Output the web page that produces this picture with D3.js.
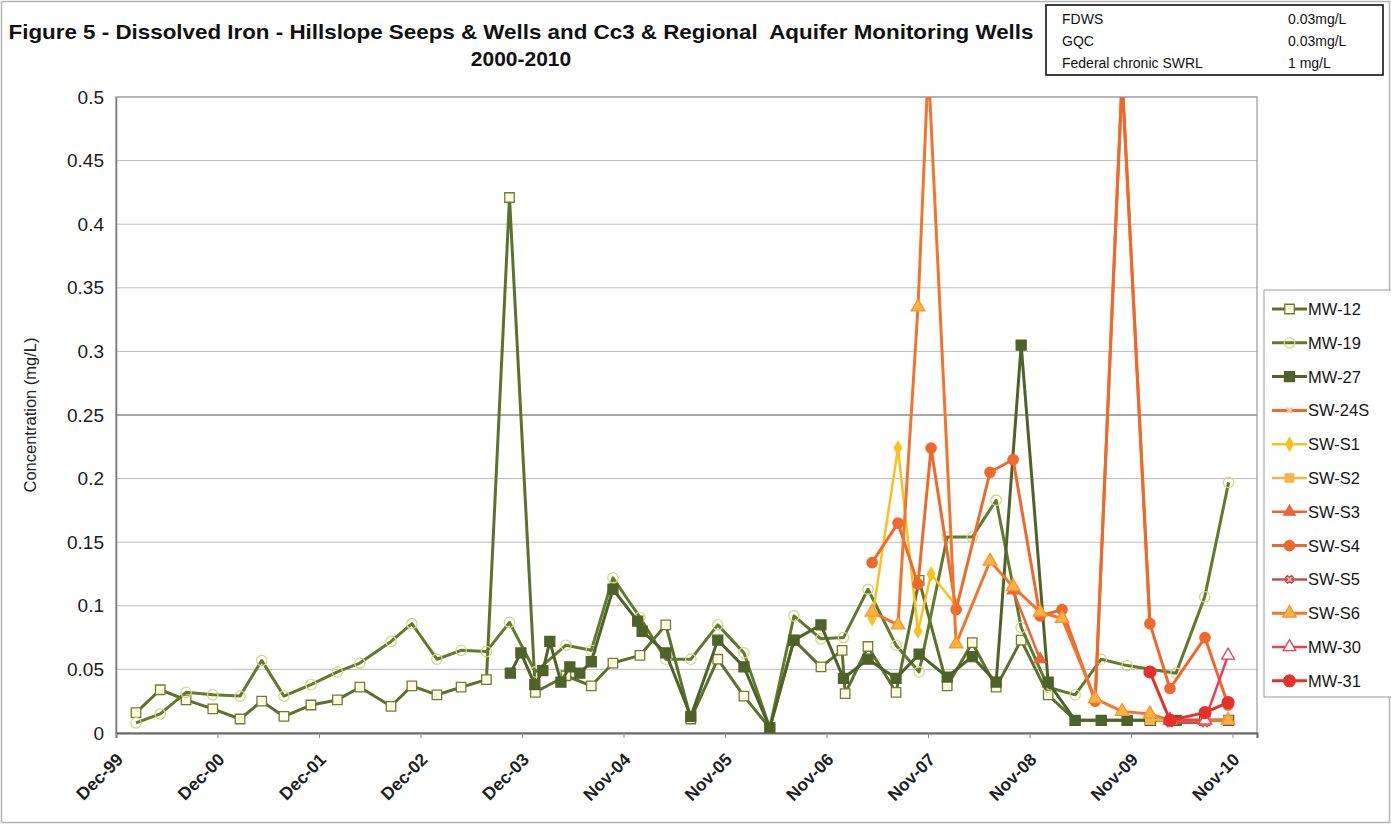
<!DOCTYPE html>
<html><head><meta charset="utf-8">
<script src="https://cdn.jsdelivr.net/npm/d3@7"></script>
<style>
html,body{margin:0;padding:0;background:#fff;}
svg{display:block;}
text{font-family:"Liberation Sans",Arial,sans-serif;}
</style></head>
<body><svg id="c" width="1391" height="824"></svg>
<script>
// ---------- DATA ----------
const titleLine1 = "Figure 5 - Dissolved Iron - Hillslope Seeps & Wells and Cc3 & Regional  Aquifer Monitoring Wells";
const titleLine2 = "2000-2010";
const yAxisTitle = "Concentration (mg/L)";
const yTicks = [0,0.05,0.1,0.15,0.2,0.25,0.3,0.35,0.4,0.45,0.5];
const xTickDates = ["1999-12-02","2000-12-01","2001-12-01","2002-12-01","2003-12-01","2004-11-30","2005-11-30","2006-11-30","2007-11-30","2008-11-29","2009-11-29","2010-11-29"];
const xTickLabels = ["Dec-99","Dec-00","Dec-01","Dec-02","Dec-03","Nov-04","Nov-05","Nov-06","Nov-07","Nov-08","Nov-09","Nov-10"];
const standardsNames = ["FDWS","GQC","Federal chronic SWRL"];
const standardsValues = ["0.03mg/L","0.03mg/L","1 mg/L"];
const seriesNames = ["MW-12","MW-19","MW-27","SW-24S","SW-S1","SW-S2","SW-S3","SW-S4","SW-S5","SW-S6","MW-30","MW-31"];

const MW12 = [["2000-02-12",0.016],["2000-05-09",0.034],["2000-08-10",0.026],["2000-11-14",0.019],["2001-02-20",0.011],["2001-05-09",0.025],["2001-07-28",0.013],["2001-11-02",0.022],["2002-02-05",0.026],["2002-04-27",0.036],["2002-08-17",0.021],["2002-10-31",0.037],["2003-01-29",0.030],["2003-04-26",0.036],["2003-07-26",0.042],["2003-10-17",0.421],["2004-01-18",0.032],["2004-05-07",0.045],["2004-08-06",0.037],["2004-10-23",0.055],["2005-01-28",0.061],["2005-05-01",0.085],["2005-07-30",0.011],["2005-11-04",0.058],["2006-02-06",0.029],["2006-05-10",0.004],["2006-08-05",0.073],["2006-11-10",0.052],["2007-01-25",0.065],["2007-02-05",0.031],["2007-04-28",0.068],["2007-08-07",0.032],["2007-10-29",0.12],["2008-02-07",0.037],["2008-05-07",0.071],["2008-08-01",0.036],["2008-10-30",0.073],["2009-02-04",0.03],["2009-05-12",0.01],["2009-08-14",0.01],["2009-11-15",0.01],["2010-02-06",0.01],["2010-05-10",0.01],["2010-08-21",0.01],["2010-11-15",0.01]];
const MW19 = [["2000-02-12",0.008],["2000-05-09",0.015],["2000-08-10",0.032],["2000-11-14",0.030],["2001-02-20",0.029],["2001-05-09",0.057],["2001-07-28",0.029],["2001-11-02",0.038],["2002-02-05",0.048],["2002-04-27",0.055],["2002-08-17",0.072],["2002-10-31",0.086],["2003-01-29",0.058],["2003-04-26",0.065],["2003-07-26",0.064],["2003-10-17",0.087],["2004-01-18",0.048],["2004-05-07",0.069],["2004-08-06",0.065],["2004-10-23",0.122],["2005-01-28",0.091],["2005-05-01",0.058],["2005-07-30",0.058],["2005-11-04",0.085],["2006-02-06",0.063],["2006-05-10",0.004],["2006-08-05",0.092],["2006-11-10",0.074],["2007-01-30",0.075],["2007-04-28",0.113],["2007-08-07",0.069],["2007-10-29",0.048],["2008-02-07",0.154],["2008-05-07",0.154],["2008-08-01",0.183],["2008-10-30",0.083],["2009-02-04",0.036],["2009-05-12",0.03],["2009-08-14",0.058],["2009-11-15",0.053],["2010-05-10",0.047],["2010-08-21",0.107],["2010-11-15",0.197]];
const MW27 = [["2003-10-20",0.047],["2003-11-27",0.063],["2004-01-16",0.038],["2004-02-14",0.049],["2004-03-10",0.072],["2004-04-19",0.04],["2004-05-21",0.052],["2004-06-26",0.047],["2004-08-06",0.056],["2004-10-23",0.113],["2005-01-20",0.088],["2005-02-05",0.08],["2005-05-01",0.063],["2005-07-30",0.013],["2005-11-04",0.073],["2006-02-06",0.052],["2006-05-10",0.004],["2006-08-05",0.073],["2006-11-10",0.085],["2007-01-30",0.043],["2007-04-28",0.058],["2007-08-07",0.043],["2007-10-29",0.062],["2008-02-07",0.044],["2008-05-07",0.06],["2008-08-01",0.04],["2008-10-30",0.305],["2009-02-04",0.04],["2009-05-12",0.01],["2009-08-14",0.01],["2009-11-15",0.01],["2010-02-06",0.01],["2010-05-10",0.01],["2010-08-21",0.01],["2010-11-15",0.01]];
const SW24S = [["2009-07-23",0.025],["2009-10-28",0.515],["2010-02-05",0.086]];
const SWS1 = [["2007-05-13",0.09],["2007-08-14",0.224],["2007-10-25",0.08],["2007-12-11",0.125],["2008-03-10",0.10]];
const SWS2 = [["2010-02-05",0.01],["2010-04-18",0.01],["2010-08-22",0.01],["2010-11-13",0.01]];
const SWS3 = [["2008-10-01",0.112],["2009-01-06",0.058]];
const SWS4 = [["2007-05-13",0.134],["2007-08-14",0.165],["2007-10-25",0.117],["2007-12-11",0.224],["2008-03-10",0.097],["2008-07-10",0.205],["2008-10-01",0.215],["2009-01-06",0.092],["2009-03-26",0.097],["2009-07-23",0.025],["2009-10-28",0.515],["2010-02-05",0.086],["2010-04-18",0.035],["2010-08-22",0.075],["2010-11-13",0.022]];
const SWS5 = [["2010-04-18",0.008],["2010-08-22",0.008]];
const SWS6 = [["2007-05-13",0.095],["2007-08-14",0.085],["2007-10-25",0.335],["2007-12-01",0.525],["2008-03-10",0.07],["2008-07-10",0.135],["2008-10-01",0.115],["2009-01-06",0.095],["2009-03-26",0.09],["2009-07-23",0.027],["2009-10-28",0.017],["2010-02-05",0.015],["2010-04-18",0.01],["2010-08-22",0.01],["2010-11-13",0.01]];
const MW30 = [["2010-04-18",0.01],["2010-08-22",0.01],["2010-11-13",0.061]];
const MW31 = [["2010-02-05",0.048],["2010-04-18",0.01],["2010-08-22",0.016],["2010-11-13",0.024]];

// ---------- STYLES ----------
const styles = {
 "MW-12": {data:MW12, color:"#5d702c", width:3, sym:d3.symbolSquare, size:90, fill:"#fffbe0", mstroke:"#6f7d33"},
 "MW-19": {data:MW19, color:"#617a2c", width:3, sym:d3.symbolCircle, size:85, fill:"none", mstroke:"#d6d68a"},
 "MW-27": {data:MW27, color:"#4f6228", width:3, sym:d3.symbolSquare, size:100, fill:"#4f6228", mstroke:"#4f6228"},
 "SW-24S":{data:SW24S, color:"#f26b2b", width:3, sym:null},
 "SW-S1": {data:SWS1, color:"#f8c21e", width:2.5, sym:d3.symbolDiamond, size:50, fill:"#f8c21e", mstroke:"#f8c21e"},
 "SW-S2": {data:SWS2, color:"#f6b545", width:2.5, sym:d3.symbolSquare, size:70, fill:"#f6b545", mstroke:"#f6b545"},
 "SW-S3": {data:SWS3, color:"#e8653a", width:2.5, sym:d3.symbolTriangle, size:60, fill:"#e8653a", mstroke:"#e8653a"},
 "SW-S4": {data:SWS4, color:"#ee6a2c", width:3, sym:d3.symbolCircle, size:85, fill:"#ee6a2c", mstroke:"#ee6a2c"},
 "SW-S5": {data:SWS5, color:"#c0504d", width:2.5, sym:d3.symbolCross, size:40, fill:"#e8b0a0", mstroke:"#c0504d"},
 "SW-S6": {data:SWS6, color:"#f3742e", width:3, sym:d3.symbolTriangle, size:80, fill:"#f9b53c", mstroke:"#f7923a"},
 "MW-30": {data:MW30, color:"#ef3d55", width:2.5, sym:d3.symbolTriangle, size:70, fill:"#fff", mstroke:"#ef3d55"},
 "MW-31": {data:MW31, color:"#e8302a", width:3, sym:d3.symbolCircle, size:110, fill:"#e8302a", mstroke:"#e8302a"}
};

// ---------- CHART ----------
const parse = d3.utcParse("%Y-%m-%d");
const svg = d3.select("#c");
const P = {left:116, right:1257, top:97, bottom:733};

svg.append("rect").attr("x",1.5).attr("y",1.5).attr("width",1388).attr("height",821)
  .attr("fill","#fff").attr("stroke","#b5b5b5").attr("stroke-width",1.5);

const x = d3.scaleUtc().domain([parse("1999-12-02"), parse("2011-02-25")]).range([P.left,P.right]);
const y = d3.scaleLinear().domain([0,0.5]).range([P.bottom,P.top]);

// title
const tg = svg.append("g");
tg.append("text").attr("x",521).attr("y",39).attr("text-anchor","middle")
  .attr("font-size",21).attr("font-weight","bold").attr("fill","#111")
  .attr("textLength",1025).attr("lengthAdjust","spacingAndGlyphs")
  .style("white-space","pre").text(titleLine1);
tg.append("text").attr("x",521).attr("y",66).attr("text-anchor","middle")
  .attr("font-size",21).attr("font-weight","bold").attr("fill","#111").text(titleLine2);

// standards box
const sb = svg.append("g");
sb.append("rect").attr("x",1046).attr("y",5).attr("width",337).attr("height",70)
  .attr("fill","#fff").attr("stroke","#111").attr("stroke-width",1.6);
standardsNames.forEach((n,i)=>{
  sb.append("text").attr("x",1062).attr("y",24+i*22).attr("font-size",14)
    .attr("font-family","'Open Sans','Noto Sans',sans-serif").attr("fill","#111").text(n);
  sb.append("text").attr("x",1288).attr("y",24+i*22).attr("font-size",14)
    .attr("font-family","'Open Sans','Noto Sans',sans-serif").attr("fill","#111").text(standardsValues[i]);
});

// gridlines
const grid = svg.append("g");
grid.selectAll("line").data(yTicks.filter(t=>t>0)).join("line")
  .attr("x1",P.left).attr("x2",P.right).attr("y1",d=>y(d)).attr("y2",d=>y(d))
  .attr("stroke",d=>d===0.25?"#8a8a8a":"#bdbdbd").attr("stroke-width",d=>d===0.25?1.4:1);

// plot border
svg.append("rect").attr("x",P.left).attr("y",P.top).attr("width",P.right-P.left).attr("height",P.bottom-P.top)
  .attr("fill","none").attr("stroke","#9a9a9a").attr("stroke-width",1.2);

// y axis
const yAxis = d3.axisLeft(y).tickValues(yTicks).tickSize(0).tickPadding(12).tickFormat(d=>String(+d.toFixed(2)));
const yg = svg.append("g").attr("transform",`translate(${P.left},0)`).call(yAxis);
yg.select(".domain").attr("stroke","#777").attr("stroke-width",1.5);
yg.selectAll("text").attr("font-size",19).attr("fill","#1a1a1a")
  .attr("font-family","'Open Sans','Noto Sans',sans-serif");

// x axis
const xTickVals = xTickDates.map(parse);
const xAxis = d3.axisBottom(x).tickValues(xTickVals).tickSize(5).tickFormat((d,i)=>xTickLabels[i]);
const xg = svg.append("g").attr("transform",`translate(0,${P.bottom})`).call(xAxis);
xg.select(".domain").attr("stroke","#666").attr("stroke-width",2);
xg.selectAll(".tick line").attr("stroke","#888");
xg.selectAll("text").attr("font-size",17.5).attr("font-weight","bold").attr("fill","#1f1f1f")
  .attr("text-anchor","end").attr("dx",0).attr("dy",0)
  .attr("transform","translate(2,22) rotate(-45)");

// y title
svg.append("text").attr("transform","translate(36,415) rotate(-90)").attr("text-anchor","middle")
  .attr("font-size",16.5).attr("fill","#222").text(yAxisTitle);

// clip
svg.append("clipPath").attr("id","pc").append("rect")
  .attr("x",P.left).attr("y",P.top).attr("width",P.right-P.left).attr("height",P.bottom-P.top);

const plot = svg.append("g").attr("clip-path","url(#pc)");
const line = d3.line().x(d=>x(parse(d[0]))).y(d=>y(d[1]));

seriesNames.forEach(name=>{
  const s = styles[name];
  plot.append("path").attr("d",line(s.data)).attr("fill","none")
    .attr("stroke",s.color).attr("stroke-width",s.width).attr("stroke-linejoin","round");
  if(s.sym){
    const sym = d3.symbol().type(s.sym).size(s.size);
    plot.append("g").selectAll("path").data(s.data).join("path")
      .attr("transform",d=>`translate(${x(parse(d[0]))},${y(d[1])})${s.sym===d3.symbolCross?" rotate(45)":""}`)
      .attr("d",sym).attr("fill",s.fill).attr("stroke",s.mstroke).attr("stroke-width",1.3);
  }
});

// legend
const lg = svg.append("g");
lg.append("rect").attr("x",1264).attr("y",290).attr("width",130).attr("height",407)
  .attr("fill","#fff").attr("stroke","#9a9a9a").attr("stroke-width",1);
seriesNames.forEach((name,i)=>{
  const s = styles[name];
  const yy = 309 + i*33.8;
  lg.append("line").attr("x1",1272).attr("x2",1307).attr("y1",yy).attr("y2",yy)
    .attr("stroke",s.color).attr("stroke-width",s.width);
  if(s.sym){
    lg.append("path").attr("transform",`translate(1289.5,${yy})${s.sym===d3.symbolCross?" rotate(45)":""}`)
      .attr("d",d3.symbol().type(s.sym).size(s.size)()).attr("fill",s.fill).attr("stroke",s.mstroke).attr("stroke-width",1.3);
  } else {
    lg.append("path").attr("transform",`translate(1289.5,${yy}) rotate(45)`)
      .attr("d",d3.symbol().type(d3.symbolCross).size(30)()).attr("fill","#f4c0a0").attr("stroke","none");
  }
  lg.append("text").attr("x",1308).attr("y",yy+6).attr("font-size",16.5).attr("fill","#151515").text(name);
});
</script></body></html>
